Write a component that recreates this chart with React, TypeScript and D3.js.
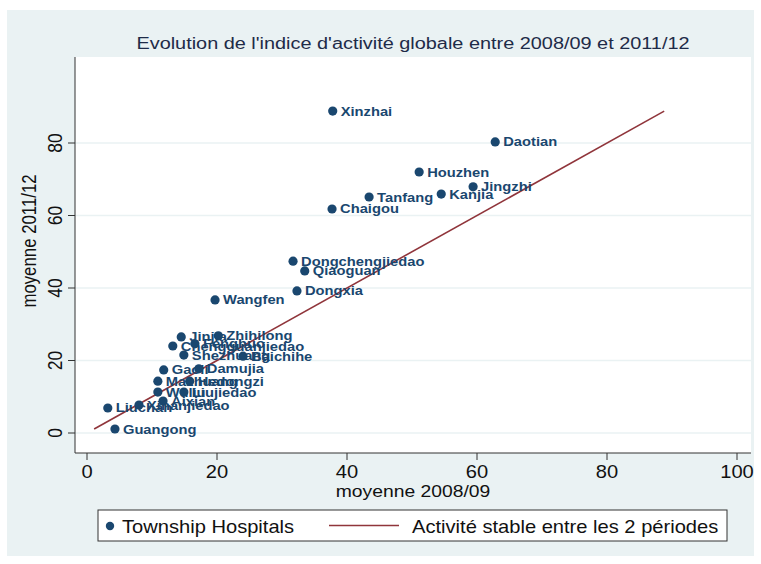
import React from "react";
import * as d3 from "d3";

const names = ["Xinzhai", "Daotian", "Houzhen", "Jingzhi", "Kanjia", "Tanfang", "Chaigou", "Dongchengjiedao", "Qiaoguan", "Dongxia", "Wangfen", "Jinjia", "Zhihilong", "Fenghuo", "Chengguanjiedao", "Shezhuang", "Baichihe", "Gaoli", "Damujia", "Mazhuang", "Hedongzi", "Wuliu", "Liujiedao", "Aixian", "Xinanjiedao", "Liuchan", "Guangong"];
const moyenne0809 = [37.8, 62.8, 51.1, 59.4, 54.5, 43.4, 37.7, 31.7, 33.5, 32.3, 19.7, 14.5, 20.2, 16.6, 13.2, 14.9, 24.0, 11.8, 17.2, 10.9, 15.8, 10.9, 14.9, 11.7, 8.0, 3.2, 4.3];
const moyenne1112 = [88.8, 80.3, 72.0, 67.9, 65.9, 65.1, 61.8, 47.4, 44.7, 39.2, 36.7, 26.5, 26.8, 24.6, 24.0, 21.5, 21.2, 17.4, 17.7, 14.3, 14.3, 11.3, 11.3, 8.8, 7.7, 6.9, 1.1];
const xTicks = [0, 20, 40, 60, 80, 100];
const yTicks = [0, 20, 40, 60, 80];
const stableRange = [1.1, 88.8];

const title = "Evolution de l'indice d'activité globale entre 2008/09 et 2011/12";
const xTitle = "moyenne 2008/09";
const yTitle = "moyenne 2011/12";
const legendDots = "Township Hospitals";
const legendLine = "Activité stable entre les 2 périodes";

const NAVY = "#1a476f";
const MAROON = "#90353b";
const BG = "#eaf2f3";
const FONT = "Arial, 'Liberation Sans', sans-serif";
const S = 1.15;

function T(props: any) {
  const { x, y, rotate, children, ...rest } = props;
  const tr = `translate(${x},${y}) scale(${S},1)` + (rotate ? ` rotate(${rotate})` : "");
  return (
    <text transform={tr} fontFamily={FONT} {...rest}>
      {children}
    </text>
  );
}

export default function App() {
  const x = d3.scaleLinear().domain([0, 100]).range([87, 737]);
  const y = d3.scaleLinear().domain([0, 80]).range([433, 143]);
  const left = 75, right = 751, top = 57, bottom = 453;
  const line = d3.line<number>().x((d) => x(d)).y((d) => y(d));

  return (
    <svg width={761} height={564} style={{ position: "absolute", left: 0, top: 0 }}>
      <rect x={0} y={0} width={761} height={564} fill="#ffffff" />
      <rect x={7} y={10} width={747} height={546} fill={BG} />
      <rect x={left} y={top} width={right - left} height={bottom - top} fill="#ffffff" />
      {yTicks.map((t) => (
        <line key={"g" + t} x1={left} x2={right} y1={y(t)} y2={y(t)} stroke={BG} strokeWidth={1.5} />
      ))}
      <T x={(left + right) / 2} y={49} textAnchor="middle" fontSize={17.3} fill="#1e2b48">{title}</T>
      {/* axes */}
      <line x1={left} x2={left} y1={top} y2={bottom} stroke="#333" strokeWidth={1} />
      <line x1={left} x2={right} y1={bottom} y2={bottom} stroke="#333" strokeWidth={1} />
      {yTicks.map((t) => (
        <g key={"y" + t}>
          <line x1={left - 7} x2={left} y1={y(t)} y2={y(t)} stroke="#333" />
          <T x={62} y={y(t)} rotate={-90} textAnchor="middle" fontSize={17.5} fill="#111">{t}</T>
        </g>
      ))}
      {xTicks.map((t) => (
        <g key={"x" + t}>
          <line x1={x(t)} x2={x(t)} y1={bottom} y2={bottom + 7} stroke="#333" />
          <T x={x(t)} y={478} textAnchor="middle" fontSize={17.5} fill="#111">{t}</T>
        </g>
      ))}
      <T x={(left + right) / 2} y={497} textAnchor="middle" fontSize={16.8} fill="#111">{xTitle}</T>
      <T x={36} y={241} rotate={-90} textAnchor="middle" fontSize={16.8} fill="#111">{yTitle}</T>
      {/* stable line */}
      <path d={line(stableRange) || ""} stroke={MAROON} strokeWidth={1.6} fill="none" />
      {/* points */}
      {names.map((n, i) => (
        <g key={n}>
          <circle cx={x(moyenne0809[i])} cy={y(moyenne1112[i])} r={4.6} fill={NAVY} />
          <T x={x(moyenne0809[i]) + 8} y={y(moyenne1112[i]) + 4.5} fontSize={12.8} fontWeight="bold" fill={NAVY}>{n}</T>
        </g>
      ))}
      {/* legend */}
      <rect x={98} y={510} width={629} height={31} fill="#fff" stroke="#333" strokeWidth={1} />
      <circle cx={110} cy={526} r={4.2} fill={NAVY} />
      <T x={122} y={532.5} fontSize={17.5} fill="#111">{legendDots}</T>
      <line x1={329} x2={399} y1={525.5} y2={525.5} stroke={MAROON} strokeWidth={1.6} />
      <T x={412} y={532.5} fontSize={17.5} fill="#111">{legendLine}</T>
    </svg>
  );
}
